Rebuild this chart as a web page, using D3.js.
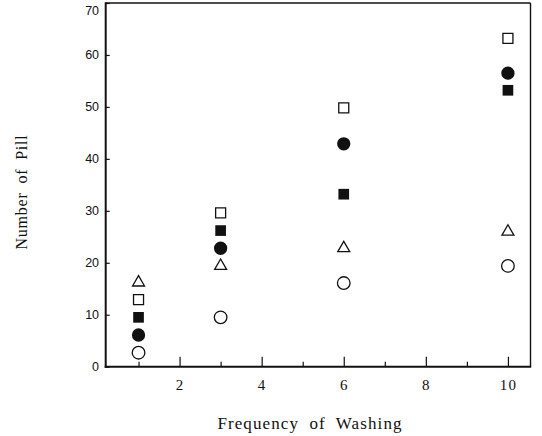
<!DOCTYPE html>
<html>
<head>
<meta charset="utf-8">
<script src="https://cdn.jsdelivr.net/npm/d3@7"></script>
<style>
  html, body { margin: 0; padding: 0; background: #fff; }
  svg { display: block; }
  .xlab text { font-family: 'Liberation Serif', 'Times New Roman', serif; font-size: 15px; letter-spacing: 1.2px; fill: #111; }
  .ylab text { font-family: 'Liberation Sans', Arial, sans-serif; font-size: 12.5px; letter-spacing: -0.2px; fill: #111; }
</style>
</head>
<body>
<svg id="chart" width="542" height="436"></svg>
<script>
// Number of pills after repeated washing, five fabric samples
const washes = [1, 3, 6, 10];
const openSquare   = [12.9, 29.6, 49.8, 63.2];
const filledCircle = [6.1, 22.8, 42.9, 56.5];
const filledSquare = [9.5, 26.2, 33.2, 53.2];
const openTriangle = [16.2, 19.4, 22.8, 26.0];
const openCircle   = [2.7, 9.5, 16.1, 19.4];

const xMajorTicks = [2, 4, 6, 8, 10];
const xMinorTicks = [1, 3, 5, 7, 9];
const yTicks = [0, 10, 20, 30, 40, 50, 60, 70];

const series = [
  { values: openSquare,   shape: "square",   filled: false },
  { values: filledCircle, shape: "circle",   filled: true },
  { values: filledSquare, shape: "square",   filled: true },
  { values: openTriangle, shape: "triangle", filled: false },
  { values: openCircle,   shape: "circle",   filled: false }
];

const svg = d3.select("#chart");
const ink = "#111";

const x = d3.scaleLinear().domain([0.2, 10.55]).range([105.7, 530.5]);
const y = d3.scaleLinear().domain([0, 70]).range([366.7, 3]);

// x axis: labelled even ticks, shorter unlabelled odd ticks, all pointing inward
const xMajor = svg.append("g")
  .attr("class", "xlab")
  .attr("transform", `translate(0,${y(0)})`)
  .call(d3.axisBottom(x).tickValues(xMajorTicks).tickSize(-10).tickPadding(13)
    .tickFormat(d3.format("d")));
const xMinor = svg.append("g")
  .attr("transform", `translate(0,${y(0)})`)
  .call(d3.axisBottom(x).tickValues(xMinorTicks).tickSize(-5).tickFormat(""));

const yAxis = svg.append("g")
  .attr("class", "ylab")
  .attr("transform", `translate(${x.range()[0]},0)`)
  .call(d3.axisLeft(y).tickValues(yTicks).tickSize(-4).tickPadding(7)
    .tickFormat(d3.format("d")));

[xMajor, xMinor, yAxis].forEach(g => {
  g.attr("font-size", null).attr("font-family", null);
  g.select(".domain").remove();
  g.selectAll(".tick line").attr("stroke", ink).attr("stroke-width", 1.2);
});
// keep the top label inside the frame
yAxis.selectAll(".tick").filter(d => d === 70).select("text").attr("dy", "0.95em");

// frame: heavier left and bottom axes, lighter top and right edges
const [x0, x1] = x.range();
const [yb, yt] = y.range();
svg.append("line").attr("x1", x0).attr("x2", x1).attr("y1", yt).attr("y2", yt)
  .attr("stroke", ink).attr("stroke-width", 1.4);
svg.append("line").attr("x1", x1).attr("x2", x1).attr("y1", yt).attr("y2", yb)
  .attr("stroke", ink).attr("stroke-width", 1.4);
svg.append("line").attr("x1", x0).attr("x2", x0).attr("y1", yt - 0.7).attr("y2", yb + 1)
  .attr("stroke", ink).attr("stroke-width", 2);
svg.append("line").attr("x1", x0 - 1).attr("x2", x1 + 0.7).attr("y1", yb).attr("y2", yb)
  .attr("stroke", ink).attr("stroke-width", 2);

// markers
const symbolFor = { square: d3.symbolSquare, circle: d3.symbolCircle, triangle: d3.symbolTriangle };
const sizeFor = { square: 100, circle: 125, triangle: 62 };

series.forEach(s => {
  const pts = washes.map((w, i) => ({ w, v: s.values[i] }));
  svg.append("g").selectAll("path")
    .data(pts)
    .join("path")
    .attr("transform", d => `translate(${x(d.w)},${y(d.v)})`)
    .attr("d", d3.symbol().type(symbolFor[s.shape]).size(s.filled ? sizeFor[s.shape] + 14 : sizeFor[s.shape]))
    .attr("fill", s.filled ? ink : "#fff")
    .attr("stroke", ink)
    .attr("stroke-width", s.filled ? 0 : 1.3);
});

// axis titles
svg.append("text")
  .attr("x", 310).attr("y", 429)
  .attr("text-anchor", "middle")
  .attr("font-family", "'Liberation Serif', 'Times New Roman', serif")
  .attr("font-size", 17).attr("letter-spacing", 1.1).attr("word-spacing", 5)
  .attr("fill", ink)
  .text("Frequency of Washing");

svg.append("text")
  .attr("transform", "translate(27,192) rotate(-90)")
  .attr("text-anchor", "middle")
  .attr("font-family", "'Liberation Serif', 'Times New Roman', serif")
  .attr("font-size", 16).attr("letter-spacing", 0.8).attr("word-spacing", 4)
  .attr("fill", ink)
  .text("Number of Pill");
</script>
</body>
</html>
